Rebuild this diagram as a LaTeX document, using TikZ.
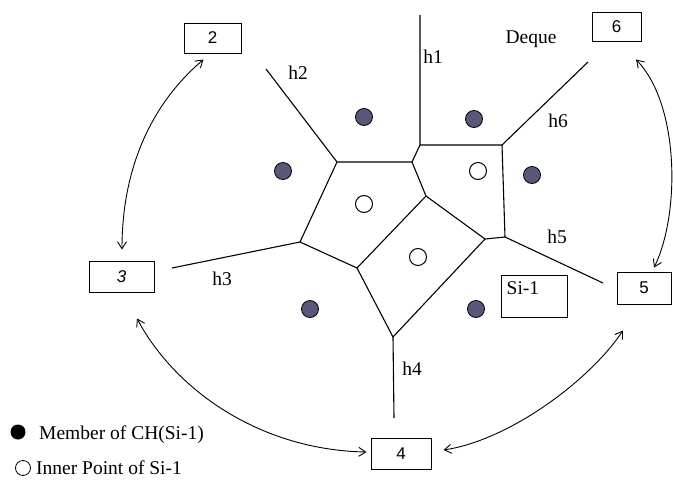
\documentclass[tikz,border=0pt]{standalone}
\usepackage{fontspec}
\setmainfont{Liberation Serif}
\newfontfamily\digitfont{Liberation Sans}
\usetikzlibrary{arrows.meta,calc}
\definecolor{hullblue}{RGB}{88,88,122}
\begin{document}
\begin{tikzpicture}[x=1pt,y=-1pt,
  edge/.style={line width=1.1pt},
  dequebox/.style={draw,line width=1pt,inner sep=0pt,font=\digitfont\fontsize{17}{17}\selectfont},
  hlabel/.style={font=\fontsize{19.5}{19.5}\selectfont,anchor=base,inner sep=0pt},
  legendtext/.style={font=\fontsize{19.5}{19.5}\selectfont,anchor=base west,inner sep=0pt},
  link/.style={line width=0.9pt,{Straight Barb[length=7pt,width=9pt]}-{Straight Barb[length=7pt,width=9pt]}},
  hullpt/.style={circle,draw,line width=0.8pt,fill=hullblue,minimum size=17pt,inner sep=0pt},
  innerpt/.style={circle,draw,line width=1pt,fill=white,minimum size=17pt,inner sep=0pt}]
\useasboundingbox (0,0) rectangle (673,485);

% Voronoi vertices
\coordinate (v1) at (337,162);
\coordinate (v2) at (412,162);
\coordinate (v3) at (420,145);
\coordinate (v4) at (502,145);
\coordinate (v5) at (505,237);
\coordinate (v6) at (485,239);
\coordinate (v7) at (426,196);
\coordinate (v8) at (357,268);
\coordinate (v9) at (300,242);
\coordinate (v10) at (393,337);
% open ends of the rays h1..h6
\coordinate (r1) at (420,15);
\coordinate (r2) at (266,69);
\coordinate (r3) at (172,268);
\coordinate (r4) at (394,418);
\coordinate (r5) at (603,283);
\coordinate (r6) at (588,62);

% Voronoi edges
\draw[edge] (r1) -- (v3) -- (v4) -- (r6);
\draw[edge] (v4) -- (v5) -- (r5);
\draw[edge] (v5) -- (v6) -- (v7) -- (v2) -- (v3);
\draw[edge] (v6) -- (v10) -- (r4);
\draw[edge] (r2) -- (v1) -- (v2);
\draw[edge] (v1) -- (v9) -- (r3);
\draw[edge] (v9) -- (v8) -- (v7);
\draw[edge] (v8) -- (v10);

% ray labels
\node[hlabel] (h1) at (433,63) {h1};
\node[hlabel] (h2) at (298,79) {h2};
\node[hlabel] (h3) at (222,285) {h3};
\node[hlabel] (h4) at (412,375) {h4};
\node[hlabel] (h5) at (557,243) {h5};
\node[hlabel] (h6) at (558,127) {h6};
\node[hlabel] (deque) at (531,43) {Deque};

% points of the convex hull
\node[hullpt] (p1) at (364,117) {};
\node[hullpt] (p2) at (474,119) {};
\node[hullpt] (p3) at (283,171) {};
\node[hullpt] (p4) at (532,175) {};
\node[hullpt] (p5) at (310,309) {};
\node[hullpt] (p6) at (476,309) {};
% inner points
\node[innerpt] (q1) at (364,204) {};
\node[innerpt] (q2) at (478,171) {};
\node[innerpt] (q3) at (418,257) {};

% deque boxes
\node[dequebox,minimum width=57pt,minimum height=30pt] (b2) at (212.5,38) {2};
\node[dequebox,minimum width=49pt,minimum height=29pt] (b6) at (616.5,26.5) {6};
\node[dequebox,minimum width=65pt,minimum height=31pt] (b3) at (121.5,276.5) {\itshape 3};
\node[dequebox,minimum width=54pt,minimum height=32pt] (b5) at (644,288) {5};
\node[dequebox,minimum width=60pt,minimum height=31pt] (b4) at (401,453.5) {4};

% set label box
\node[draw,line width=1pt,minimum width=66pt,minimum height=42pt,inner sep=0pt] (si) at (534,296) {};
\node[font=\fontsize{19.5}{19.5}\selectfont,anchor=north west,inner sep=0pt] (sitext) at ($(si.north west)+(6,7)$) {Si-1};

% links between neighbouring deque entries
\coordinate (a2) at ($(b2.south)+(-9,6)$);
\coordinate (a3t) at ($(b3.north)+(0.5,-11)$);
\coordinate (a3b) at ($(b3.south)+(15.5,26)$);
\coordinate (a4l) at ($(b4.west)+(-4,-1.5)$);
\coordinate (a4r) at ($(b4.east)+(12,-3.5)$);
\coordinate (a5b) at ($(b5.south)+(-21,26)$);
\coordinate (a5t) at ($(b5.north)+(10,-4)$);
\coordinate (a6) at ($(b6.south)+(19.5,18)$);
\draw[link] (a2) .. controls (150,105) and (122,170) .. (a3t);
\draw[link] (a3b) .. controls (175,390) and (260,450) .. (a4l);
\draw[link] (a4r) .. controls (510,440) and (590,380) .. (a5b);
\draw[link] (a6) .. controls (680,105) and (680,215) .. (a5t);

% legend
\node[circle,fill=black,minimum size=15pt,inner sep=0pt] (lg1) at (18,432) {};
\node[legendtext] (lgt1) at (39,439) {Member of CH(Si-1)};
\node[circle,draw,line width=0.8pt,minimum size=15pt,inner sep=0pt] (lg2) at (23,468) {};
\node[legendtext] (lgt2) at (36,474) {Inner Point of Si-1};
\end{tikzpicture}
\end{document}
